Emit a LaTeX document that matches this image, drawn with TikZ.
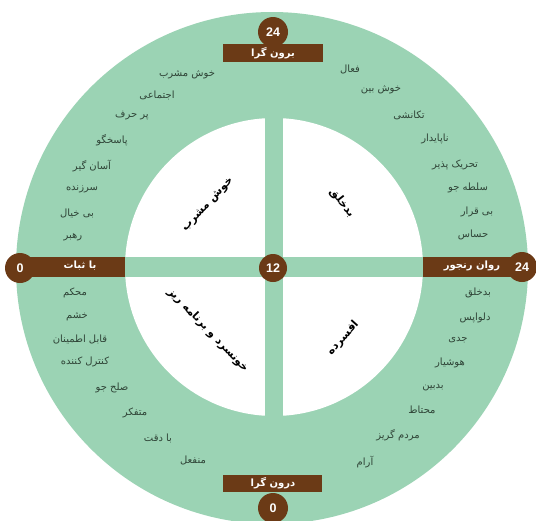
\documentclass[tikz,border=0pt]{standalone}
\usepackage{fontspec}
\TeXXeTstate=1
\newfontfamily\fa[Script=Arabic]{DejaVu Sans}
\newfontfamily\numfont{Liberation Sans}
\newcommand\rtl[1]{\beginR #1\endR}
\definecolor{ring}{HTML}{9BD3B4}
\definecolor{brownc}{HTML}{6B3A16}
\definecolor{wordc}{HTML}{2F4437}
\tikzset{
  word/.style={font=\fa\fontsize{10}{12}\selectfont, text=wordc, inner sep=0pt},
  quad/.style={font=\fa\bfseries\fontsize{11}{13}\selectfont, text=black, inner sep=0pt},
  band/.style={fill=brownc, draw=none},
  bandtext/.style={font=\fa\bfseries\fontsize{10}{12}\selectfont, text=white, inner sep=0pt},
  numdot/.style={circle, fill=brownc, minimum size=30pt, inner sep=0pt, text=white, font=\numfont\bfseries\fontsize{12.5}{14}\selectfont},
}
\begin{document}
\begin{tikzpicture}[x=1pt,y=-1pt]
\useasboundingbox (0,0) rectangle (536,520);
\clip (0,0) rectangle (536,520);
\fill[white] (0,0) rectangle (536,520);
% rings
\fill[ring] (272,268) circle (256);
\fill[white] (274,267) circle (149);
\fill[ring] (265,110) rectangle (283,425);
\fill[ring] (120,257) rectangle (430,277);
% axis bands
\fill[band] (223,44) rectangle (323,62);
\node[numdot] (top) at (273,32) {24};
\node[bandtext] (topt) at (273,53) {\rtl{برون گرا}};
\fill[band] (223,475) rectangle (322,492);
\node[numdot] (bot) at (273,508) {0};
\node[bandtext] (bott) at (273,483) {\rtl{درون گرا}};
\fill[band] (15,257) rectangle (125,277);
\node[numdot] (left) at (20,268) {0};
\node[bandtext] (leftt) at (80,266) {\rtl{با ثبات}};
\fill[band] (423,257) rectangle (525,277);
\node[numdot] (right) at (522,267) {24};
\node[bandtext] (rightt) at (472,266) {\rtl{روان رنجور}};
\node[numdot, minimum size=28pt] (mid) at (273,268) {12};
% quadrant labels
\node[quad, rotate=47] (q1) at (208,205) {\rtl{خوش مشرب}};
\node[quad, rotate=-52] (q2) at (342,203) {\rtl{بدخلق}};
\node[quad, rotate=-46] (q3) at (208,330) {\rtl{خونسرد و برنامه ریز}};
\node[quad, rotate=48] (q4) at (343,338) {\rtl{افسرده}};
% top-left words
\node[word] (a1) at (187,75) {\rtl{خوش مشرب}};
\node[word] (a2) at (157,95) {\rtl{اجتماعی}};
\node[word] (a3) at (132,116) {\rtl{پر حرف}};
\node[word] (a4) at (112,140) {\rtl{پاسخگو}};
\node[word] (a5) at (92,166) {\rtl{آسان گیر}};
\node[word] (a6) at (82,189) {\rtl{سرزنده}};
\node[word] (a7) at (77,213) {\rtl{بی خیال}};
\node[word] (a8) at (73,237) {\rtl{رهبر}};
% top-right words
\node[word] (b1) at (350,69) {\rtl{فعال}};
\node[word] (b2) at (381,90) {\rtl{خوش بین}};
\node[word] (b3) at (409,115) {\rtl{تکانشی}};
\node[word] (b4) at (435,139) {\rtl{ناپایدار}};
\node[word] (b5) at (455,165) {\rtl{تحریک پذیر}};
\node[word] (b6) at (468,188) {\rtl{سلطه جو}};
\node[word] (b7) at (477,212) {\rtl{بی قرار}};
\node[word] (b8) at (473,235) {\rtl{حساس}};
% bottom-left words
\node[word] (c1) at (75,293) {\rtl{محکم}};
\node[word] (c2) at (77,317) {\rtl{خشم}};
\node[word] (c3) at (80,340) {\rtl{قابل اطمینان}};
\node[word] (c4) at (85,362) {\rtl{کنترل کننده}};
\node[word] (c5) at (112,388) {\rtl{صلح جو}};
\node[word] (c6) at (135,413) {\rtl{متفکر}};
\node[word] (c7) at (158,438) {\rtl{با دقت}};
\node[word] (c8) at (193,460) {\rtl{منفعل}};
% bottom-right words
\node[word] (d1) at (478,293) {\rtl{بدخلق}};
\node[word] (d2) at (475,318) {\rtl{دلواپس}};
\node[word] (d3) at (458,340) {\rtl{جدی}};
\node[word] (d4) at (450,363) {\rtl{هوشیار}};
\node[word] (d5) at (433,388) {\rtl{بدبین}};
\node[word] (d6) at (422,410) {\rtl{محتاط}};
\node[word] (d7) at (398,435) {\rtl{مردم گریز}};
\node[word] (d8) at (365,462) {\rtl{آرام}};
\end{tikzpicture}
\end{document}
